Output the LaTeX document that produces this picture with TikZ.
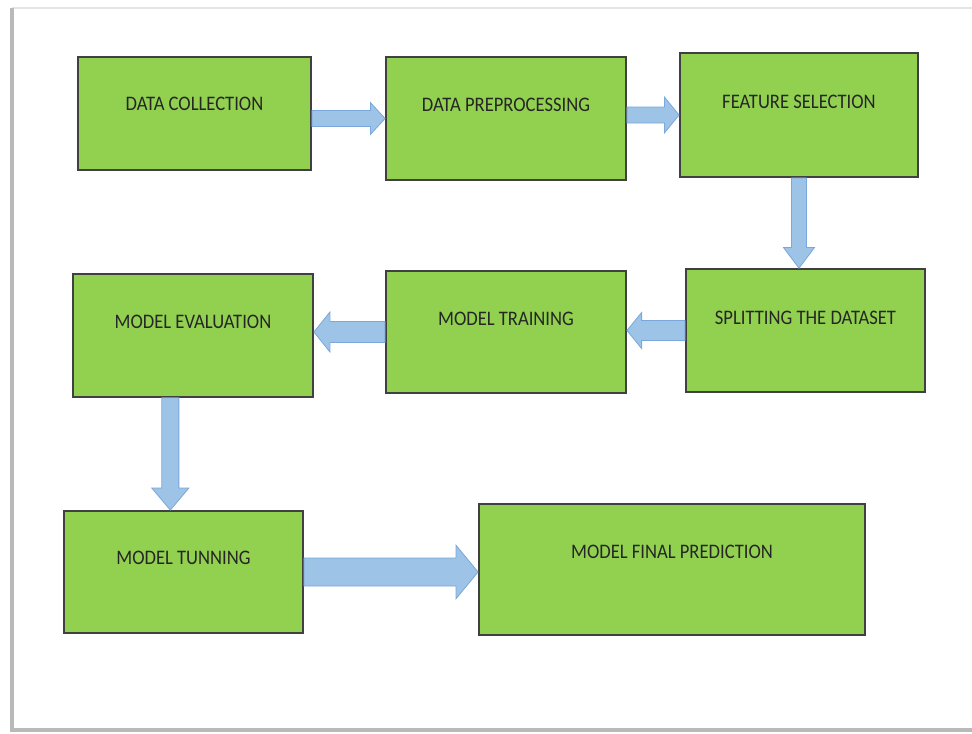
\documentclass[tikz,border=0pt]{standalone}
\usepackage{fontspec}
\setmainfont{Carlito}[FakeStretch=0.9]
\usepackage{tikz}
\usetikzlibrary{calc,positioning}
\definecolor{stagegreen}{RGB}{146,208,80}
\definecolor{stageline}{RGB}{64,64,64}
\definecolor{arrowfill}{RGB}{157,195,230}
\definecolor{arrowline}{RGB}{122,167,220}
\definecolor{pageedge}{RGB}{185,185,185}
\tikzstyle{stage} = [rectangle, minimum width=180pt, minimum height=92pt, draw=stageline, line width=1.4pt, fill=stagegreen, text=black!85, font=\fontsize{15.5pt}{18pt}\selectfont, text depth=20pt, inner sep=0pt]
\tikzstyle{arrowbody} = [fill=arrowfill, draw=arrowline, line width=0.6pt, line join=miter]
% block arrow: from, to, shaft half width, head half width, head length
\newcommand{\blockarrow}[5]{%
  \coordinate (ba-h) at ($(#2)!#5!(#1)$);
  \draw[arrowbody] ($(#1)!#3!90:(#2)$) -- ($(ba-h)!#3!-90:(#1)$) -- ($(ba-h)!#4!-90:(#1)$)
    -- (#2) -- ($(ba-h)!#4!90:(#1)$) -- ($(ba-h)!#3!90:(#1)$) -- ($(#1)!#3!-90:(#2)$) -- cycle;
}

\begin{document}
\begin{tikzpicture}[x=0.75pt, y=-0.75pt]
\useasboundingbox (0,0) rectangle (972,733);
% page
\draw[gray!20, line width=1pt] (12,8) -- (972,8);
\draw[pageedge, line width=2.5pt] (12,8) -- (12,730) -- (972,730);
% first row
\node (collect) [stage, minimum width=174.75pt, minimum height=84.75pt, text depth=14pt] at (194.5,113.5) {DATA COLLECTION};
\node (prep) [stage] at (506,118.5) {DATA PREPROCESSING};
\node (feat) [stage, minimum width=178.5pt, minimum height=93pt] at (799,115) {FEATURE SELECTION};
% second row
\node (split) [stage, minimum width=179.25pt, text depth=18.5pt] at (805.5,330.5) {SPLITTING THE DATASET};
\node (train) [stage, minimum height=91.5pt] at (506,332) {MODEL TRAINING};
\node (eval) [stage] at (193,335.5) {MODEL EVALUATION};
% third row
\node (tune) [stage, minimum width=179.25pt, minimum height=91.5pt, text depth=22pt] at (183.5,572) {MODEL TUNNING};
\node (final) [stage, minimum width=289.5pt, minimum height=98.25pt, text depth=26pt] at (672,569.5) {MODEL FINAL PREDICTION};
% arrows
\blockarrow{collect.east |- prep.west}{prep.west}{6pt}{12pt}{11pt}
\blockarrow{prep.east |- feat.west}{feat.west}{6pt}{13.5pt}{11pt}
\blockarrow{feat.south}{feat.south |- split.north}{5.6pt}{11.6pt}{15.5pt}
\blockarrow{split.west}{train.east |- split.west}{7.5pt}{13.5pt}{11pt}
\blockarrow{train.west}{eval.east |- train.west}{7.9pt}{15pt}{12pt}
\coordinate (evaldrop) at ([xshift=-17pt]eval.south);
\blockarrow{evaldrop}{evaldrop |- tune.north}{6.4pt}{13.9pt}{16.5pt}
\blockarrow{tune.east}{final.west |- tune.east}{10.5pt}{20pt}{16.5pt}
\end{tikzpicture}
\end{document}
